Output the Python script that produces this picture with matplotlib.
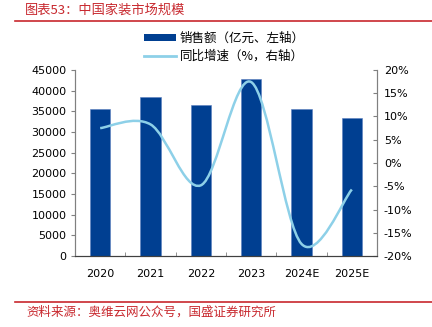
import matplotlib
matplotlib.use("Agg")
import matplotlib.pyplot as plt
from matplotlib.path import Path
from matplotlib.patches import PathPatch
from matplotlib.lines import Line2D
from matplotlib.patches import Patch
import numpy as np

# ---- data ----
years = ["2020", "2021", "2022", "2023", "2024E", "2025E"]
sales = [35500, 38400, 36500, 42900, 35500, 33500]        # 亿元
growth = [7.5, 8.3, -4.8, 17.4, -17.4, -5.7]                # %

BAR_COLOR = "#003f91"
LINE_COLOR = "#8dd0e8"
RED = "#c8282e"
CJK = ["Noto Sans CJK SC", "DejaVu Sans"]

plt.rcParams["font.family"] = ["DejaVu Sans", "Noto Sans CJK SC"]

fig = plt.figure(figsize=(4.32, 3.27), dpi=100)
ax = fig.add_axes([0.1736, 0.2171, 0.6991, 0.5689])
ax2 = ax.twinx()

x = np.arange(len(years))
ax.bar(x, sales, width=0.4, color=BAR_COLOR, edgecolor="#5a7fbf", linewidth=0.4, zorder=2)
ax.set_xlim(-0.5, len(years) - 0.5)
ax.set_ylim(0, 45000)
ax.set_yticks(np.arange(0, 45001, 5000))
ax.set_xticks(x)
ax.set_xticklabels(years)
ax.set_xticks(np.arange(0.5, len(years) - 1, 1), minor=True)
ax.tick_params(axis="x", which="major", length=0, labelsize=8, pad=9)
ax.tick_params(axis="x", which="minor", length=3, direction="in", color="#808080")
ax.tick_params(axis="y", length=3, direction="out", color="#808080", labelsize=8, pad=3)

# smoothed growth line (Catmull-Rom -> cubic Bezier)
pts = np.column_stack([x, growth]).astype(float)
ext = np.vstack([pts[0], pts, pts[-1]])
verts = [tuple(pts[0])]
codes = [Path.MOVETO]
for i in range(len(pts) - 1):
    p0, p1, p2, p3 = ext[i], ext[i + 1], ext[i + 2], ext[i + 3]
    c1 = p1 + (p2 - p0) / 6
    c2 = p2 - (p3 - p1) / 6
    verts += [tuple(c1), tuple(c2), tuple(p2)]
    codes += [Path.CURVE4] * 3
ax2.add_patch(PathPatch(Path(verts, codes), facecolor="none", edgecolor=LINE_COLOR,
                        linewidth=1.8, zorder=3))
ax2.set_ylim(-20, 20)
ax2.set_yticks(np.arange(-20, 21, 5))
ax2.set_yticklabels([f"{v}%" for v in range(-20, 21, 5)])
ax2.tick_params(axis="y", length=3, direction="in", color="#808080", labelsize=8, pad=5)

for a in (ax, ax2):
    a.spines["top"].set_visible(False)
    a.spines["left"].set_color("#808080")
    a.spines["right"].set_color("#808080")
    a.spines["bottom"].set_color("#404040")
    a.spines["left"].set_linewidth(0.8)
    a.spines["right"].set_linewidth(0.8)

# legend
handles = [Patch(facecolor=BAR_COLOR, edgecolor="none"),
           Line2D([0], [0], color=LINE_COLOR, linewidth=2)]
labels = ["销售额（亿元、左轴）", "同比增速（%，右轴）"]
fig.legend(handles, labels, loc="center", bbox_to_anchor=(0.52, 0.855),
           bbox_transform=fig.transFigure, frameon=False, ncol=1,
           prop={"family": CJK, "size": 9}, handlelength=2.5, handleheight=0.5,
           labelspacing=0.35, handletextpad=0.35)

# title / source with red rules
fig.text(0.058, 0.968, "图表53：中国家装市场规模", color=RED, fontsize=9.5,
         family=CJK, style="italic", va="center", ha="left")
fig.add_artist(Line2D([0.035, 1.0], [0.936, 0.936], color=RED, linewidth=1.2,
                      transform=fig.transFigure))
fig.add_artist(Line2D([0.035, 1.0], [0.077, 0.077], color=RED, linewidth=1.2,
                      transform=fig.transFigure))
fig.text(0.062, 0.044, "资料来源：奥维云网公众号，国盛证券研究所", color=RED, fontsize=9,
         family=CJK, style="italic", va="center", ha="left")

fig.savefig("out.png", dpi=100)
